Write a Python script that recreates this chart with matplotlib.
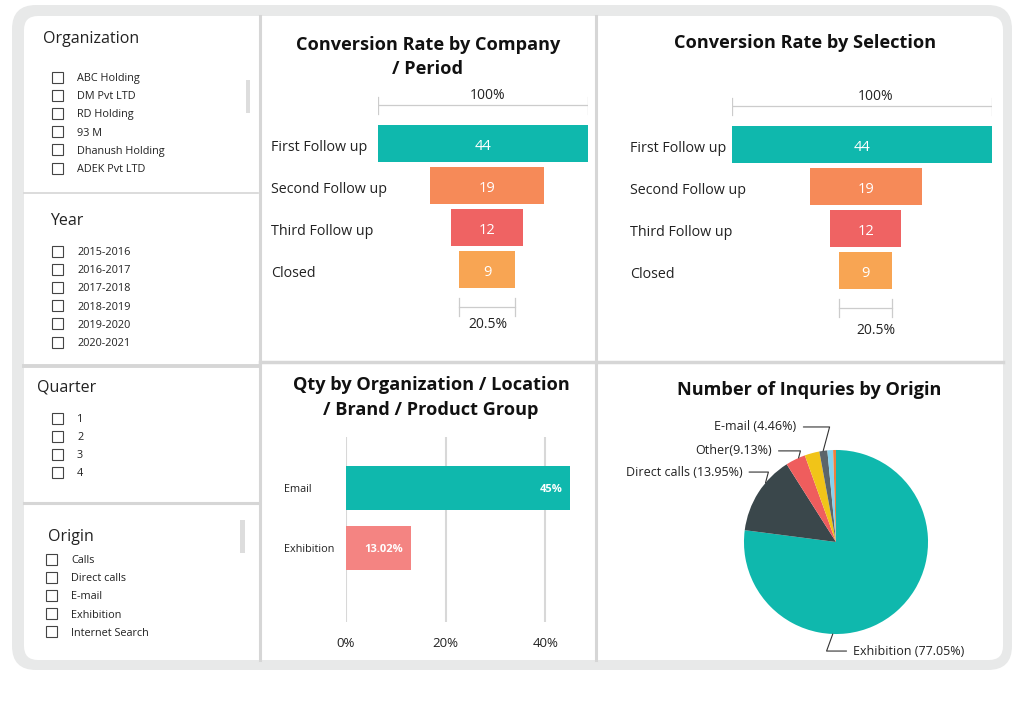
import numpy as np
import matplotlib.pyplot as plt
from matplotlib.patches import FancyBboxPatch, Rectangle
from matplotlib.transforms import blended_transform_factory

plt.rcParams['font.family'] = ['Open Sans', 'DejaVu Sans']

W, H = 1024, 715

# filter lists
org_items = ['ABC Holding', 'DM Pvt LTD', 'RD Holding', '93 M', 'Dhanush Holding', 'ADEK Pvt LTD']
year_items = ['2015-2016', '2016-2017', '2017-2018', '2018-2019', '2019-2020', '2020-2021']
quarter_items = ['1', '2', '3', '4']
origin_items = ['Calls', 'Direct calls', 'E-mail', 'Exhibition', 'Internet Search']

# funnels
stages = ['First Follow up', 'Second Follow up', 'Third Follow up', 'Closed']
stage_counts = [44, 19, 12, 9]
company_widths = [100, 54, 34, 27]  # bar widths as drawn in the company funnel (% of top)
stage_colors = ['#0FB8AD', '#F68A58', '#EF6363', '#F8A553']
funnel_top = '100%'
funnel_bottom = '20.5%'

# qty by organization
qty_labels = ['Email', 'Exhibition']
qty_values = [45, 13.02]
qty_text = ['45%', '13.02%']
qty_colors = ['#0FB8AD', '#F48482']
qty_ticks = [0, 20, 40]

# inquiries by origin
pie_values = [77.05, 13.95, 3.5, 2.6, 1.4, 1.0, 0.5]
pie_colors = ['#0FB8AD', '#3A474B', '#EF5D5D', '#F1C418', '#5B666B', '#86D3EE', '#F07F3C']
pie_labels = ['Exhibition (77.05%)', 'Direct calls (13.95%)', 'Other(9.13%)', 'E-mail (4.46%)']

fig = plt.figure(figsize=(W / 100, H / 100), dpi=100)


def px_axes(x0, y0, x1, y1):
    return fig.add_axes([x0 / W, 1 - y1 / H, (x1 - x0) / W, (y1 - y0) / H])


# background / frame
bg = px_axes(0, 0, W, H)
bg.set_xlim(0, W)
bg.set_ylim(H, 0)
bg.axis('off')
bg.add_patch(FancyBboxPatch((12, 5), 1000, 665, boxstyle='round,pad=0,rounding_size=24',
                            fc='#E8E9E9', ec='none'))
bg.add_patch(FancyBboxPatch((24, 16), 979, 644, boxstyle='round,pad=0,rounding_size=14',
                            fc='white', ec='none'))
div = '#D6D6D6'
bg.plot([260, 260], [16, 660], color=div, lw=2.2)
bg.plot([596, 596], [16, 660], color=div, lw=2.2)
bg.plot([260, 1003], [362, 362], color=div, lw=2.5)
bg.plot([24, 258], [193, 193], color=div, lw=1.2)
bg.plot([24, 258], [366, 366], color=div, lw=2.8)
bg.plot([24, 258], [503, 503], color=div, lw=2.2)

# scroll bars
bg.add_patch(Rectangle((246, 80), 4, 33, fc='#DDDDDD', ec='none'))
bg.add_patch(Rectangle((240, 520), 5, 33, fc='#DDDDDD', ec='none'))


def filter_box(title, tx, ty, items, bx, y0, txt_x, step=18.2):
    bg.text(tx, ty, title, fontsize=11.5, color='#222222', va='center_baseline', ha='left')
    for i, it in enumerate(items):
        y = y0 + step * i
        bg.add_patch(Rectangle((bx, y - 5.5), 11, 11, fc='white', ec='#444444', lw=0.8))
        bg.text(txt_x, y, it, fontsize=7.8, color='#222222', va='center_baseline', ha='left')


filter_box('Organization', 43, 37, org_items, 52, 77, 77)
filter_box('Year', 50, 219, year_items, 52, 251, 77)
filter_box('Quarter', 37, 385, quarter_items, 52, 418, 77, step=18)
filter_box('Origin', 48, 535, origin_items, 46, 559, 71)

# titles
tkw = dict(fontsize=13.1, fontweight='bold', color='#111111', ha='center', va='center_baseline')
bg.text(428, 43, 'Conversion Rate by Company', **tkw)
bg.text(428, 67, '/ Period', **tkw)
bg.text(805, 41, 'Conversion Rate by Selection', **tkw)
bg.text(431, 383, 'Qty by Organization / Location', **tkw)
bg.text(431, 408, '/ Brand / Product Group', **tkw)
bg.text(809, 388, 'Number of Inquries by Origin', **tkw)


def funnel(x0, x1, yc, label_x, widths, shift, txt_shift, bottom_txt_y):
    ax = px_axes(x0, yc - 63, x1, yc + 189)
    ax.set_xlim(-50, 50)
    ax.set_ylim(4.5, -1.5)
    ax.axis('off')
    ax.patch.set_alpha(0)
    ys = list(range(len(stages)))
    centers = [0] + [shift] * (len(widths) - 1)
    ax.barh(ys, widths, left=[c - w / 2 for c, w in zip(centers, widths)], height=0.88,
            color=stage_colors)
    tr = blended_transform_factory(fig.transFigure, ax.transData)
    for i, (s, c) in enumerate(zip(stages, stage_counts)):
        ax.text(centers[i], i + 0.03, str(c), color='white', fontsize=10.5, ha='center',
                va='center_baseline')
        ax.text(label_x / W, i + 0.04, s, transform=tr, fontsize=10.3, color='#222222',
                ha='left', va='center_baseline')
    gc = '#CCCCCC'
    # top bracket
    w0 = widths[0] / 2
    ax.plot([-w0, w0], [-0.92, -0.92], color=gc, lw=0.9)
    for x in (-w0, w0):
        ax.plot([x, x], [-1.1, -0.7], color=gc, lw=0.9)
    ax.text(txt_shift, -1.18, funnel_top, fontsize=10, color='#222222', ha='center',
            va='center_baseline')
    # bottom bracket
    w3 = widths[-1] / 2
    ax.plot([shift - w3, shift + w3], [3.89, 3.89], color=gc, lw=0.9)
    for x in (shift - w3, shift + w3):
        ax.plot([x, x], [3.67, 4.1], color=gc, lw=0.9)
    ax.text(txt_shift, bottom_txt_y, funnel_bottom, fontsize=10, color='#222222', ha='center',
            va='center_baseline')


funnel(378, 588, 143.5, 271, company_widths, 1.9, 2.4, 4.25)
funnel(732, 992, 144.5, 630, [c / stage_counts[0] * 100 for c in stage_counts], 1.5, 5.4, 4.39)

# qty bar chart
ax = px_axes(346, 437, 580, 622)
ax.patch.set_alpha(0)
ax.set_xlim(0, 47)
ax.set_ylim(2.23, -0.85)
ys = list(range(len(qty_values)))
ax.barh(ys, qty_values, height=0.72, color=qty_colors, zorder=3)
ax.set_xticks(qty_ticks)
ax.set_xticklabels([f'{t}%' for t in qty_ticks], fontsize=9.5, color='#222222')
ax.tick_params(axis='x', length=0, pad=11)
ax.set_yticks([])
ax.xaxis.grid(True, color='#D8D8D8', lw=1.5, zorder=0)
for s in ax.spines.values():
    s.set_visible(False)
tr = blended_transform_factory(fig.transFigure, ax.transData)
for i, (lab, v, t) in enumerate(zip(qty_labels, qty_values, qty_text)):
    ax.text(284 / W, i, lab, transform=tr, fontsize=7.8, color='#222222', ha='left',
            va='center_baseline')
    ax.text(v - 1.5, i, t, fontsize=8, fontweight='bold', color='white', ha='right',
            va='center_baseline', zorder=4)

# pie
ax = px_axes(686, 392, 986, 692)
ax.patch.set_alpha(0)
ax.pie(pie_values, colors=pie_colors, startangle=90, counterclock=False, radius=1)
ax.set_xlim(-1.63, 1.63)
ax.set_ylim(-1.63, 1.63)
ax.set_aspect('equal')

akw = dict(arrowstyle='-', color='#333333', lw=0.8, shrinkA=3, shrinkB=0)


def pie_label(text, ang, tx, ty, ha, angB):
    a = np.deg2rad(ang)
    ax.annotate(text, xy=(np.cos(a), np.sin(a)), xytext=(tx, ty), fontsize=9,
                color='#222222', ha=ha, va='center',
                arrowprops=dict(connectionstyle=f'angle,angleA=0,angleB={angB},rad=0', **akw))


pie_label(pie_labels[3], 98, -0.43, 1.25, 'right', 75)
pie_label(pie_labels[2], 114, -0.70, 0.99, 'right', 75)
pie_label(pie_labels[1], 140, -1.02, 0.76, 'right', 75)
pie_label(pie_labels[0], 268, 0.19, -1.185, 'left', 70)

fig.savefig('out.png', dpi=100, facecolor='white')
